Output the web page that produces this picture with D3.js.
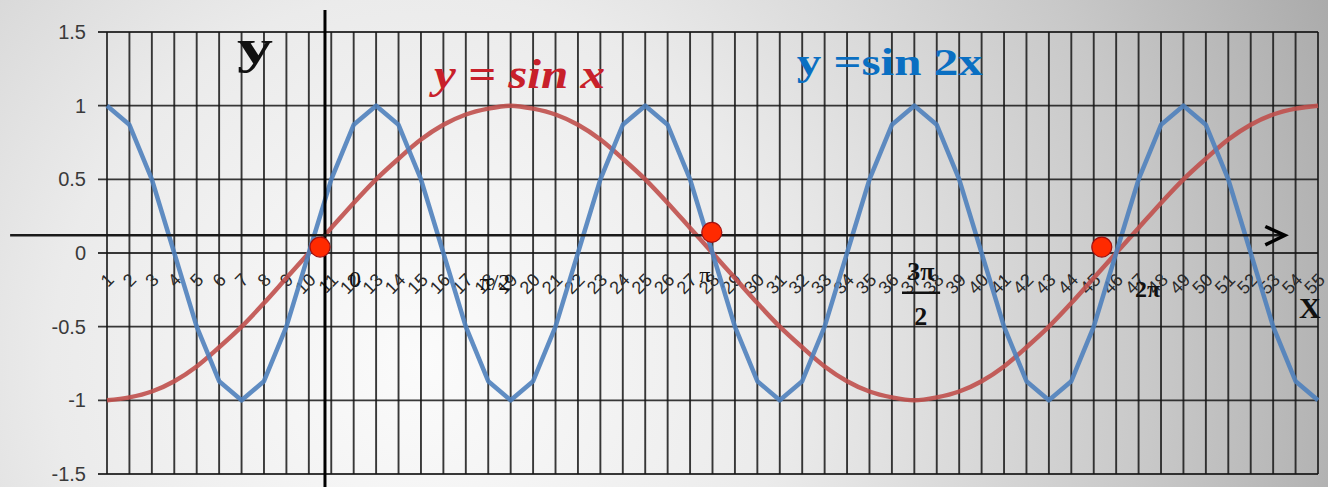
<!DOCTYPE html>
<html><head><meta charset="utf-8">
<script src="https://cdn.jsdelivr.net/npm/d3@7"></script>
<style>html,body{margin:0;padding:0;overflow:hidden;background:#ddd}</style>
</head><body>
<svg id="c" width="1328" height="487"></svg>
<script>
// ---- data ----
const categories = ["1","2","3","4","5","6","7","8","9","10","11","12","13","14","15","16","17","18","19","20",
  "21","22","23","24","25","26","27","28","29","30","31","32","33","34","35","36","37","38","39","40",
  "41","42","43","44","45","46","47","48","49","50","51","52","53","54","55"];
const sinX = [-1,-0.98,-0.94,-0.87,-0.77,-0.64,-0.5,-0.34,-0.17,0,0.17,0.34,0.5,0.64,0.77,0.87,0.94,0.98,1,
  0.98,0.94,0.87,0.77,0.64,0.5,0.34,0.17,0,-0.17,-0.34,-0.5,-0.64,-0.77,-0.87,-0.94,-0.98,-1,
  -0.98,-0.94,-0.87,-0.77,-0.64,-0.5,-0.34,-0.17,0,0.17,0.34,0.5,0.64,0.77,0.87,0.94,0.98,1];
const sin2X = [1,0.87,0.5,0,-0.5,-0.87,-1,-0.87,-0.5,0,0.5,0.87,
  1,0.87,0.5,0,-0.5,-0.87,-1,-0.87,-0.5,0,0.5,0.87,
  1,0.87,0.5,0,-0.5,-0.87,-1,-0.87,-0.5,0,0.5,0.87,
  1,0.87,0.5,0,-0.5,-0.87,-1,-0.87,-0.5,0,0.5,0.87,
  1,0.87,0.5,0,-0.5,-0.87,-1];
const yTicks = [1.5,1,0.5,0,-0.5,-1,-1.5];
const yTickLabels = ["1.5","1","0.5","0","-0.5","-1","-1.5"];
// hand-drawn annotations (category position, value)
const zeroMarks = [{c:10.5,v:0.04},{c:27.97,v:0.14},{c:45.36,v:0.04}];
const angleLabels = [
  {t:"0",c:12.06,v:-0.23,size:24,w:"normal"},
  {t:"π/2",c:18.3,v:-0.25,size:24,w:"normal"},
  {t:"π",c:27.66,v:-0.2,size:22,w:"normal"},
  {t:"3π",c:37.29,v:-0.18,size:26,w:"bold"},
  {t:"2",c:37.29,v:-0.49,size:26,w:"bold"},
  {t:"2π",c:47.4,v:-0.3,size:24,w:"bold"}
];

// ---- layout ----
const W = 1328, H = 487;
const svg = d3.select("#c");
const x = d3.scalePoint().domain(categories).range([107, 1318]);
const xc = d3.scaleLinear().domain([1, 55]).range([107, 1318]);
const y = d3.scaleLinear().domain([-1.5, 1.5]).range([474, 32]);
const plotL = 98, plotR = 1318;

// background
const defs = svg.append("defs");
const rg = defs.append("radialGradient").attr("id","bg")
  .attr("gradientUnits","userSpaceOnUse").attr("cx",420).attr("cy",360).attr("r",1050);
rg.append("stop").attr("offset","0").attr("stop-color","#fbfbfb");
rg.append("stop").attr("offset","0.35").attr("stop-color","#ebebeb");
rg.append("stop").attr("offset","0.7").attr("stop-color","#c8c8c8");
rg.append("stop").attr("offset","1").attr("stop-color","#a2a2a2");
svg.append("rect").attr("width",W).attr("height",H).attr("fill","url(#bg)");

// gridlines
const g = svg.append("g");
g.selectAll(".hg").data(yTicks).enter().append("line")
  .attr("x1",plotL).attr("x2",plotR).attr("y1",d=>y(d)).attr("y2",d=>y(d))
  .attr("stroke","#161616").attr("stroke-width",1.9).attr("stroke-opacity",0.85);
g.selectAll(".vg").data(categories).enter().append("line")
  .attr("x1",d=>x(d)).attr("x2",d=>x(d)).attr("y1",y(1.5)).attr("y2",y(-1.5))
  .attr("stroke","#161616").attr("stroke-width",1.9).attr("stroke-opacity",0.85);

// y tick labels
svg.selectAll(".yl").data(yTicks).enter().append("text")
  .attr("x",86).attr("y",d=>y(d)+7).attr("text-anchor","end")
  .attr("font-family","Liberation Sans, Arial, sans-serif").attr("font-size",20)
  .attr("fill","#3a3a3a").text((d,i)=>yTickLabels[i]);

// category labels (rotated)
svg.selectAll(".xl").data(categories).enter().append("text")
  .attr("transform",d=>`translate(${x(d)+8},${y(0)+28}) rotate(-45)`)
  .attr("text-anchor","end")
  .attr("font-family","Liberation Sans, Arial, sans-serif").attr("font-size",18)
  .attr("fill","#2a2a2a").text(d=>d);

// series lines
const lineBlue = d3.line().x((d,i)=>x(categories[i])).y(d=>y(d));
const lineRed = d3.line().x((d,i)=>x(categories[i])).y(d=>y(d)).curve(d3.curveMonotoneX);
svg.append("path").datum(sinX).attr("d",lineRed).attr("fill","none")
  .attr("stroke","#c0504d").attr("stroke-width",4.5).attr("stroke-opacity",0.9).attr("stroke-linejoin","round");
svg.append("path").datum(sin2X).attr("d",lineBlue).attr("fill","none")
  .attr("stroke","#4f81bd").attr("stroke-width",4.5).attr("stroke-opacity",0.9).attr("stroke-linejoin","round");

// hand drawn axes
svg.append("line").attr("x1",xc(10.72)).attr("x2",xc(10.72)).attr("y1",y(1.65)).attr("y2",H)
  .attr("stroke","#000").attr("stroke-width",3);
svg.append("line").attr("x1",xc(-3.32)).attr("x2",xc(53.52)).attr("y1",y(0.12)).attr("y2",y(0.12))
  .attr("stroke","#1a1a1a").attr("stroke-width",2.6);
svg.append("path")
  .attr("d",`M${xc(52.65)},${y(0.18)} L${xc(53.52)},${y(0.12)} L${xc(52.65)},${y(0.055)}`)
  .attr("fill","none").attr("stroke","#000").attr("stroke-width",3.5).attr("stroke-linejoin","miter");

// zero markers
svg.selectAll(".zm").data(zeroMarks).enter().append("circle")
  .attr("cx",d=>xc(d.c)).attr("cy",d=>y(d.v)).attr("r",10)
  .attr("fill","#ff2a00").attr("stroke","#a31010").attr("stroke-width",1.2);

// angle labels
svg.selectAll(".al").data(angleLabels).enter().append("text")
  .attr("x",d=>xc(d.c)).attr("y",d=>y(d.v)).attr("text-anchor","middle")
  .attr("font-family","Liberation Serif, Times New Roman, serif")
  .attr("font-size",d=>d.size).attr("font-weight",d=>d.w).attr("fill","#111").text(d=>d.t);
svg.append("line").attr("x1",xc(36.45)).attr("x2",xc(38.15)).attr("y1",y(-0.27)).attr("y2",y(-0.27))
  .attr("stroke","#111").attr("stroke-width",2.5);
svg.append("text").attr("x",xc(54.15)).attr("y",y(-0.44))
  .attr("font-family","Liberation Serif, Times New Roman, serif").attr("font-size",30)
  .attr("font-weight","bold").attr("fill","#111").text("X");

// titles
svg.append("text").attr("x",xc(6.8)).attr("y",y(1.29))
  .attr("font-family","Liberation Serif, Times New Roman, serif").attr("font-size",48)
  .attr("font-weight","bold").attr("fill","#111")
  .attr("textLength",36).attr("lengthAdjust","spacingAndGlyphs").text("y");
svg.append("text").attr("x",xc(15.58)).attr("y",y(1.12))
  .attr("font-family","Liberation Serif, Times New Roman, serif").attr("font-size",42)
  .attr("font-weight","bold").attr("font-style","italic").attr("fill","#c8202a")
  .attr("textLength",171).attr("lengthAdjust","spacingAndGlyphs").text("y = sin x");
svg.append("text").attr("x",xc(31.76)).attr("y",y(1.21))
  .attr("font-family","Liberation Serif, Times New Roman, serif").attr("font-size",38)
  .attr("font-weight","bold").attr("fill","#0a6fc2")
  .attr("textLength",186).attr("lengthAdjust","spacingAndGlyphs").text("y =sin 2x");
</script>
</body></html>
